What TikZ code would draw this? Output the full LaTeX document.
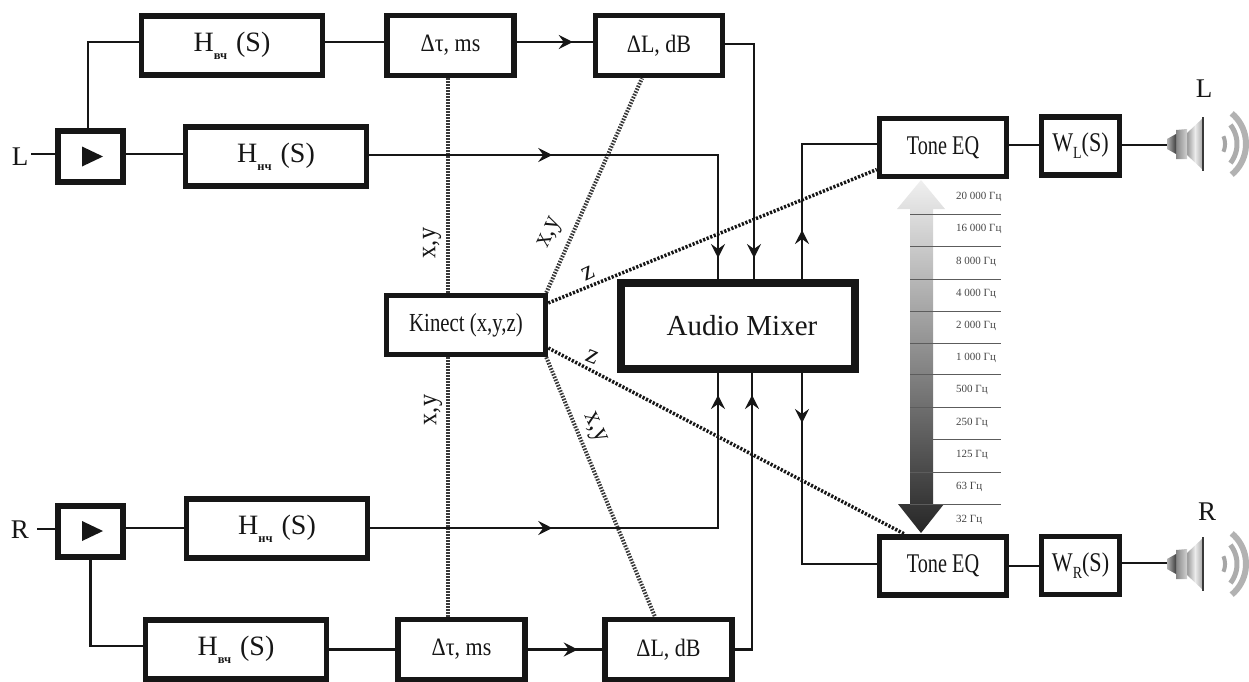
\documentclass[tikz,border=0pt]{standalone}
\usepackage{fontspec}
\setmainfont{Liberation Serif}
\usetikzlibrary{arrows.meta,decorations.markings}
\definecolor{ink}{HTML}{161616}
\newcommand{\fs}[1]{\fontsize{#1}{#1}\selectfont}
\newcommand{\cond}[2][.82]{\scalebox{#1}[1]{#2}}
\newcommand{\Hlabel}[1]{H\raisebox{-8pt}{\fs{12.5}\bfseries #1}\hspace{2pt} (S)}
\newcommand{\Wlabel}[1]{\cond[.82]{W\raisebox{-7pt}{\fs{17}#1}(S)}}
\tikzset{
  blk/.style={draw=ink,line width=5.5pt,fill=white,inner sep=0pt,text=ink,align=center},
  hbox/.style={blk,minimum width=181pt,minimum height=59pt,font=\fs{28}},
  dbox/.style={blk,minimum width=127pt,minimum height=60pt,font=\fs{25}},
  tbox/.style={blk,minimum width=127pt,minimum height=58pt,font=\fs{27}},
  wbox/.style={blk,minimum width=78pt,minimum height=58pt,font=\fs{27}},
  pbox/.style={blk,line width=6pt,minimum width=65pt,minimum height=51pt},
  conn/.style={draw=ink,line width=2.3pt},
  tipat/.style={decoration={markings,mark=at position #1 with {\arrow{barb}}},postaction={decorate}},
  tiptwo/.style 2 args={decoration={markings,mark=at position #1 with {\arrow{barb}},mark=at position #2 with {\arrow{barb}}},postaction={decorate}},
  barb/.tip={Stealth[length=14pt,width=14pt,inset=5pt]},
  kdot/.style={draw=ink!85,line width=4pt,dash pattern=on 1.6pt off 1.4pt},
  zdot/.style={draw=ink,line width=3.5pt,dash pattern=on 2.2pt off 1.6pt},
  lab/.style={text=ink,inner sep=0pt,font=\fs{27}},
  freq/.style={text=ink!80,inner sep=0pt,anchor=west,font=\fs{11}},
}
\newcommand{\spk}[1]{%
 \begin{scope}[shift={(1203,#1)}]
  \shade[left color=gray!80,right color=gray!70,middle color=gray!15]
     (0,-26) -- (-16,-11) -- (-16,11) -- (0,26) -- cycle;
  \shade[left color=gray!95,right color=gray!35]
     (-16,-15) -- (-27,-14) -- (-27,15) -- (-16,15) -- cycle;
  \shade[left color=gray!60,right color=black!75]
     (-27,-10) -- (-36,-5) -- (-36,5) -- (-27,10) -- cycle;
  \draw[ink!85,line width=2.5pt] (0,-27) -- (0,27);
  \draw[gray!70,line width=4pt] plot[domain=-24:24,samples=12] ({3+19*cos(\x)},{19*sin(\x)});
  \draw[gray!65,line width=5pt] plot[domain=-38:38,samples=16] ({3+31*cos(\x)},{31*sin(\x)});
  \draw[gray!60,line width=6pt] plot[domain=-50:50,samples=20] ({3+40*cos(\x)},{40*sin(\x)});
 \end{scope}}
\begin{document}
\begin{tikzpicture}[x=1pt,y=-1pt]
\useasboundingbox (0,0) rectangle (1249,681);
% gradient arrow
\shade[top color=gray!12,bottom color=black!85]
  (921,180) -- (945,209) -- (933,209) -- (933,504) -- (944,504) -- (921,533)
  -- (898,504) -- (910,504) -- (910,209) -- (897,209) -- cycle;
\foreach \y in {214,246,279,311,343,374,407,439,472,504}
  \draw[ink!70,line width=.9pt] (910,\y) -- (1001,\y);
\foreach \i/\y/\t in {a/197/20 000 Гц,b/229/16 000 Гц,c/262/8 000 Гц,d/294/4 000 Гц,e/326/2 000 Гц,f/358/1 000 Гц,g/390/500 Гц,h/423/250 Гц,i/455/125 Гц,j/487/63 Гц,k/520/32 Гц}
  \node[freq] (f\i) at (956,\y) {\t};
% nodes
\node[hbox] (hT) at (232,45.5) {\Hlabel{вч}};
\node[hbox] (lT) at (276,156.5) {\Hlabel{нч}};
\node[pbox] (pL) at (90.5,156.5) {};
\node[dbox] (dtT) at (450.5,45.5) {\cond[.88]{Δτ, ms}};
\node[dbox] (dLT) at (659,45.5) {\cond[.88]{ΔL, dB}};
\node[blk,minimum width=159pt,minimum height=59pt,font=\fs{26}] (kin) at (466,325) {\cond[.8]{Kinect (x,y,z)}};
\node[blk,line width=8pt,minimum width=234pt,minimum height=86pt,font=\fs{29}] (mix) at (738,326) {\hspace{8pt}Audio Mixer};
\node[tbox] (eqT) at (943,147.5) {\cond[.75]{Tone EQ}};
\node[wbox] (wL) at (1080.5,146) {\Wlabel{L}};
\node[tbox] (eqB) at (943,566) {\cond[.75]{Tone EQ}};
\node[wbox] (wR) at (1080.5,565.5) {\Wlabel{R}};
\node[pbox] (pR) at (90.5,531) {};
\node[hbox] (lB) at (277,528.5) {\Hlabel{нч}};
\node[hbox] (hB) at (236,649.5) {\Hlabel{вч}};
\node[dbox] (dtB) at (461.5,649.5) {\cond[.88]{Δτ, ms}};
\node[dbox] (dLB) at (668.5,649.5) {\cond[.88]{ΔL, dB}};
\node[lab] (tL) at (20,157) {L};
\node[lab] (tR) at (20,530) {R};
\node[lab] (sL) at (1204,89) {L};
\node[lab] (sR) at (1207,512) {R};
\coordinate (sLc) at (1168,145);
\coordinate (sRc) at (1168,563);
% play glyphs
\foreach \p in {pL,pR}
  \fill[ink] ([shift={(-8.5,-10)}]\p.center) -- ([shift={(12.5,0)}]\p.center) -- ([shift={(-8.5,10)}]\p.center) -- cycle;
% kinect links
\draw[kdot] ([xshift=-18pt]kin.north) -- ([xshift=-2.5pt]dtT.south);
\draw[kdot] ([xshift=-18pt]kin.south) -- ([xshift=-13.5pt]dtB.north);
\draw[kdot] ([xshift=-2pt]kin.north east) -- ([xshift=-17pt]dLT.south);
\draw[kdot] ([xshift=-2pt]kin.south east) -- ([xshift=-13.5pt]dLB.north);
\draw[zdot] ([yshift=22pt]kin.east) -- ([yshift=-22pt]eqT.west);
\draw[zdot] ([yshift=-23pt]kin.east) -- ([xshift=-38pt]eqB.north);
% left top connectors
\draw[conn] (tL.east) ++(3,-3) -- ([yshift=2.5pt]pL.west);
\draw[conn] ([yshift=2.5pt]pL.east) -- ([yshift=2.5pt]lT.west);
\draw[conn] ([xshift=-2.5pt]pL.north) |- ([yshift=3.5pt]hT.west);
\draw[conn] ([yshift=3.5pt]hT.east) -- ([yshift=3.5pt]dtT.west);
\draw[conn,tipat=56pt] ([yshift=3.5pt]dtT.east) -- ([yshift=3.5pt]dLT.west);
\draw[conn,tipat=-21pt] ([yshift=1.5pt]dLT.east) -| ([xshift=16pt]mix.north);
\draw[conn,tiptwo={183pt}{-21pt}] ([yshift=1.5pt]lT.east) -| ([xshift=-20pt]mix.north);
\draw[conn,tipat=49pt] ([xshift=64pt]mix.north) |- ([yshift=3.5pt]eqT.west);
\draw[conn,tipat=50pt] ([xshift=64pt]mix.south) |- ([yshift=2pt]eqB.west);
% left bottom connectors
\draw[conn] (tR.east) ++(8,-1) -- ([yshift=2pt]pR.west);
\draw[conn] ([yshift=3pt]pR.east) -- ([yshift=.5pt]lB.west);
\draw[conn] (pR.south) |- ([yshift=3.5pt]hB.west);
\draw[conn] (hB.east) -- (dtB.west);
\draw[conn,tipat=50pt] (dtB.east) -- (dLB.west);
\draw[conn,tiptwo={182pt}{-22pt}] ([yshift=.5pt]lB.east) -| ([xshift=-20pt]mix.south);
\draw[conn,tipat=-22pt] (dLB.east) -| ([xshift=14pt]mix.south);
% right connectors
\draw[conn] ([yshift=2.5pt]eqT.east) -- ([yshift=1pt]wL.west);
\draw[conn] ([yshift=1pt]wL.east) -- (sLc);
\draw[conn] (eqB.east) -- ([yshift=-.5pt]wR.west);
\draw[conn] ([yshift=2.5pt]wR.east) -- (sRc);
\spk{144}
\spk{564}
% link labels
\node[lab,rotate=90] (xy1) at (432,243) {\cond[.9]{x,y}};
\node[lab,rotate=90] (xy2) at (433,410) {\cond[.9]{x,y}};
\node[lab,rotate=65] (xy3) at (551,233) {\cond[.9]{x,y}};
\node[lab,rotate=-65] (xy4) at (594,428) {\cond[.9]{x,y}};
\node[lab,rotate=25] (z1) at (588,273) {z};
\node[lab,rotate=-22] (z2) at (592,357) {z};
\end{tikzpicture}
\end{document}
